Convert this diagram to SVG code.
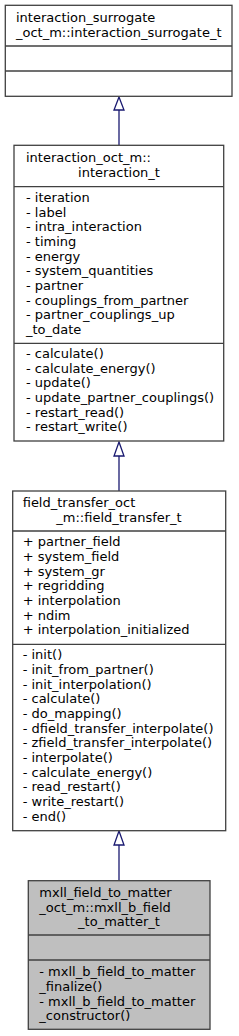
<svg xmlns="http://www.w3.org/2000/svg" width="239" height="1036" viewBox="0 0 239 1036">
<style>
text{font-family:"DejaVu Sans","Liberation Sans",sans-serif;font-size:13px;fill:#000}
.box{fill:#fff;stroke:#404040;stroke-width:1.3}
.gray{fill:#bfbfbf}
.div{stroke:#404040;stroke-width:1.3}
.edge{stroke:#191970;stroke-width:1.3;fill:none}
.head{fill:#fff;stroke:#191970;stroke-width:1.3}
.c{text-anchor:middle}
</style>
<rect x="0" y="0" width="239" height="1036" fill="#fff"/>
<g id="connectors">
<path class="edge" d="M119 145.3 V110"/>
<polygon class="head" points="119,97 114,110 124,110"/>
<path class="edge" d="M119 491 V456"/>
<polygon class="head" points="119,442 114,456 124,456"/>
<path class="edge" d="M119 880 V845"/>
<polygon class="head" points="119,831 114,845 124,845"/>
</g>
<g id="node_interaction_surrogate">
<rect class="box" x="5.3" y="5.3" width="226.7" height="91"/>
<line class="div" x1="5.3" y1="46" x2="232" y2="46"/>
<line class="div" x1="5.3" y1="71" x2="232" y2="71"/>
<text x="16" y="22">interaction_surrogate</text>
<text x="16" y="37">_oct_m::interaction_surrogate_t</text>
</g>
<g id="node_interaction">
<rect class="box" x="14" y="145.3" width="209.7" height="295.7"/>
<line class="div" x1="14" y1="186.7" x2="223.7" y2="186.7"/>
<line class="div" x1="14" y1="343.3" x2="223.7" y2="343.3"/>
<text x="26" y="162">interaction_oct_m::</text>
<text x="119" y="177" class="c">interaction_t</text>
<text x="26" y="202">- iteration</text>
<text x="26" y="216.7">- label</text>
<text x="26" y="231.3">- intra_interaction</text>
<text x="26" y="246">- timing</text>
<text x="26" y="260.7">- energy</text>
<text x="26" y="275.3">- system_quantities</text>
<text x="26" y="290">- partner</text>
<text x="26" y="304.7">- couplings_from_partner</text>
<text x="26" y="319.3">- partner_couplings_up</text>
<text x="26" y="334">_to_date</text>
<text x="26" y="358">- calculate()</text>
<text x="26" y="372.7">- calculate_energy()</text>
<text x="26" y="387.3">- update()</text>
<text x="26" y="402">- update_partner_couplings()</text>
<text x="26" y="416.7">- restart_read()</text>
<text x="26" y="431.3">- restart_write()</text>
</g>
<g id="node_field_transfer">
<rect class="box" x="12.7" y="491" width="213" height="339.7"/>
<line class="div" x1="12.7" y1="531" x2="225.7" y2="531"/>
<line class="div" x1="12.7" y1="644.3" x2="225.7" y2="644.3"/>
<text x="22.7" y="507">field_transfer_oct</text>
<text x="119" y="522" class="c">_m::field_transfer_t</text>
<text x="22.7" y="546.3">+ partner_field</text>
<text x="22.7" y="561">+ system_field</text>
<text x="22.7" y="575.7">+ system_gr</text>
<text x="22.7" y="590.3">+ regridding</text>
<text x="22.7" y="605">+ interpolation</text>
<text x="22.7" y="619.7">+ ndim</text>
<text x="22.7" y="634.3">+ interpolation_initialized</text>
<text x="22.7" y="659.3">- init()</text>
<text x="22.7" y="674">- init_from_partner()</text>
<text x="22.7" y="688.7">- init_interpolation()</text>
<text x="22.7" y="703.3">- calculate()</text>
<text x="22.7" y="718">- do_mapping()</text>
<text x="22.7" y="732.7">- dfield_transfer_interpolate()</text>
<text x="22.7" y="747.3">- zfield_transfer_interpolate()</text>
<text x="22.7" y="762">- interpolate()</text>
<text x="22.7" y="776.7">- calculate_energy()</text>
<text x="22.7" y="791.3">- read_restart()</text>
<text x="22.7" y="806">- write_restart()</text>
<text x="22.7" y="820.7">- end()</text>
</g>
<g id="node_mxll_b_field_to_matter">
<rect class="box gray" x="28.3" y="880.7" width="181.7" height="148.6"/>
<line class="div" x1="28.3" y1="935" x2="210" y2="935"/>
<line class="div" x1="28.3" y1="960" x2="210" y2="960"/>
<text x="39.3" y="897">mxll_field_to_matter</text>
<text x="39.3" y="911.7">_oct_m::mxll_b_field</text>
<text x="119" y="926.3" class="c">_to_matter_t</text>
<text x="39.3" y="976.3">- mxll_b_field_to_matter</text>
<text x="39.3" y="991">_finalize()</text>
<text x="39.3" y="1005.7">- mxll_b_field_to_matter</text>
<text x="39.3" y="1020.3">_constructor()</text>
</g>
</svg>
